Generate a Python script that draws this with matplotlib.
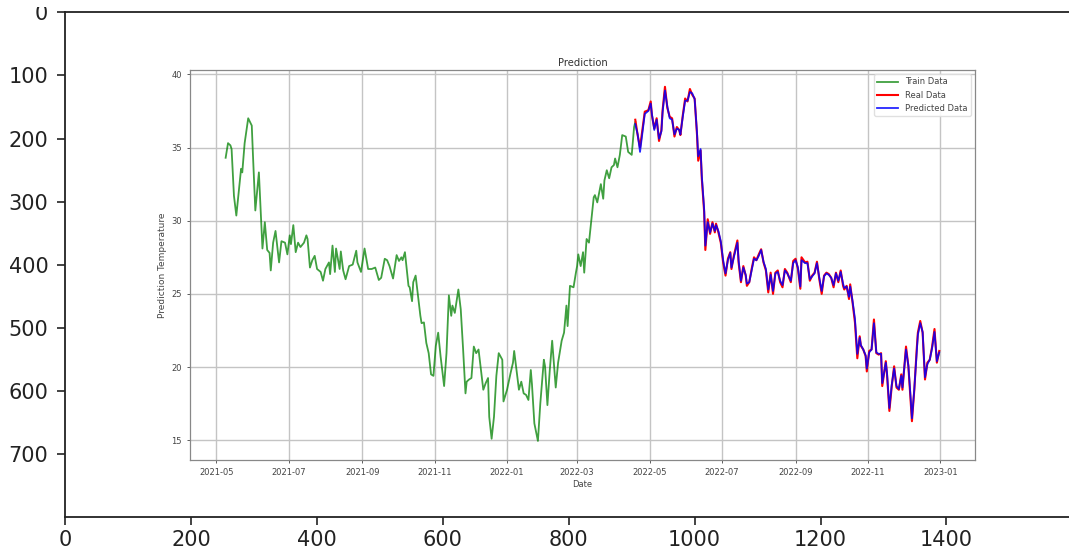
import numpy as np
import pandas as pd
import matplotlib
matplotlib.use("Agg")
import matplotlib.pyplot as plt
import matplotlib.dates as mdates
from matplotlib.transforms import Bbox

# temperature series, days counted from 2021-05-01
start = pd.Timestamp("2021-05-01")

train_day = [
    8, 10, 12, 13, 15, 17, 19, 21, 22, 24,
    27, 30, 31, 33, 36, 38, 39, 41, 43, 45,
    46, 48, 50, 53, 55, 58, 60, 62, 63, 65,
    67, 69, 71, 74, 76, 77, 79, 81, 83, 85,
    88, 90, 92, 95, 96, 98, 100, 101, 104, 105,
    107, 109, 112, 115, 118, 119, 122, 125, 128, 131,
    134, 137, 139, 142, 144, 146, 149, 152, 154, 156,
    157, 159, 162, 163, 165, 166, 168, 170, 172, 173,
    175, 177, 179, 181, 183, 185, 187, 189, 192, 194,
    196, 198, 199, 201, 204, 206, 208, 210, 211, 213,
    215, 217, 219, 221, 223, 225, 227, 229, 230, 232,
    234, 236, 238, 241, 242, 245, 248, 250, 251, 253,
    255, 257, 259, 261, 263, 265, 266, 268, 271, 273,
    276, 277, 279, 281, 283, 286, 288, 291, 293, 295,
    296, 298, 301, 303, 304, 305, 307, 309, 310, 312,
    314, 317, 318, 319, 321, 324, 326, 327, 329, 331,
    333, 335, 336, 338, 340, 342, 345, 347, 350, 352,
    353,
]
train_temp = [
    34.3, 35.3, 35.15, 34.9, 31.7, 30.35, 31.95, 33.55, 33.3, 35.3,
    37.0, 36.5, 34.5, 30.7, 33.3, 29.9, 28.1, 29.9, 28.0, 27.8,
    26.6, 28.5, 29.3, 27.15, 28.6, 28.5, 27.7, 29.0, 28.4, 29.7,
    27.85, 28.5, 28.2, 28.5, 29.0, 28.75, 26.8, 27.3, 27.6, 26.7,
    26.5, 25.9, 26.7, 27.15, 26.35, 28.3, 26.5, 28.1, 26.7, 27.9,
    26.6, 26.0, 26.9, 27.0, 27.95, 27.15, 26.5, 28.1, 26.7, 26.7,
    26.8, 25.95, 26.1, 27.4, 27.3, 26.9, 26.05, 27.65, 27.25, 27.5,
    27.3, 27.85, 25.55, 25.45, 24.5, 25.8, 26.25, 24.9, 23.5, 23.0,
    23.05, 21.65, 20.95, 19.5, 19.4, 21.45, 22.35, 20.75, 18.7, 20.95,
    24.9, 23.5, 24.2, 23.7, 25.3, 23.95, 21.2, 18.2, 19.0, 19.15,
    19.25, 21.4, 20.95, 21.2, 19.8, 18.45, 18.9, 19.25, 16.6, 15.1,
    16.6, 19.4, 20.95, 20.5, 17.65, 18.45, 19.6, 20.3, 21.1, 19.8,
    18.45, 19.0, 18.2, 18.1, 17.75, 19.8, 18.8, 16.15, 14.95, 17.5,
    20.5, 20.05, 17.4, 19.8, 21.8, 18.6, 20.3, 21.8, 22.35, 24.2,
    22.8, 25.55, 25.45, 26.45, 26.9, 27.7, 26.9, 27.85, 26.45, 28.75,
    28.5, 30.8, 31.6, 31.75, 31.25, 32.5, 31.5, 32.75, 33.45, 32.9,
    33.65, 33.8, 34.25, 33.65, 34.5, 35.85, 35.75, 34.7, 34.5, 36.4,
    36.75,
]

test_day = [
    353, 355, 357, 359, 361, 364, 366, 367, 369, 371,
    373, 375, 376, 378, 380, 382, 384, 386, 388, 390,
    391, 393, 395, 397, 399, 401, 403, 405, 406, 408,
    409, 411, 412, 414, 416, 418, 420, 421, 423, 425,
    427, 429, 431, 433, 434, 436, 439, 440, 442, 444,
    446, 447, 449, 451, 453, 455, 457, 459, 461, 463,
    465, 467, 469, 471, 473, 475, 477, 479, 481, 484,
    486, 488, 490, 492, 493, 496, 498, 500, 502, 504,
    506, 508, 510, 512, 514, 516, 518, 520, 522, 524,
    526, 528, 529, 531, 533, 534, 536, 538, 540, 542,
    543, 545, 547, 548, 550, 552, 554, 556, 558, 560,
    561, 564, 565, 567, 569, 571, 573, 575, 577, 578,
    581, 583, 585, 586, 588, 590, 591, 593, 595, 597,
    599, 601, 603, 605, 607, 609,
]
real_temp = [
    36.9, 35.85, 35.0, 36.2, 37.45, 37.55, 38.15, 37.2, 36.3, 37.0,
    35.45, 36.2, 37.55, 39.15, 37.7, 37.1, 37.0, 35.75, 36.4, 36.2,
    35.85, 37.2, 38.35, 38.15, 39.0, 38.6, 38.35, 35.85, 34.1, 34.8,
    32.9, 30.6, 28.0, 30.1, 29.1, 29.9, 29.2, 29.8, 29.2, 28.5,
    27.15, 26.25, 27.4, 27.85, 26.7, 27.6, 28.65, 27.15, 25.8, 26.9,
    26.25, 25.55, 25.8, 26.7, 27.5, 27.3, 27.7, 28.05, 27.15, 26.6,
    25.1, 26.45, 25.0, 26.45, 26.6, 25.8, 25.45, 26.7, 26.45, 25.8,
    27.25, 27.4, 26.7, 25.35, 27.5, 27.15, 27.2, 25.9, 26.25, 26.45,
    27.2, 26.0, 25.0, 26.25, 26.45, 26.35, 26.1, 25.45, 26.45, 25.8,
    26.6, 25.55, 25.3, 25.55, 24.65, 25.65, 24.4, 23.05, 20.6, 22.1,
    21.45, 21.2, 20.75, 19.7, 21.1, 21.2, 23.25, 20.95, 20.85, 20.95,
    18.7, 20.4, 19.5, 17.0, 18.7, 20.05, 18.6, 18.45, 19.5, 18.45,
    21.4, 20.05, 17.55, 16.3, 18.45, 21.2, 22.35, 23.15, 22.35, 19.15,
    20.3, 20.5, 21.4, 22.6, 20.3, 21.1,
]
pred_temp = [
    36.6, 35.9, 34.7, 36.0, 37.3, 37.5, 38.0, 37.3, 36.2, 36.9,
    35.6, 36.1, 37.4, 38.9, 37.8, 37.0, 36.9, 35.9, 36.3, 36.2,
    35.9, 37.1, 38.2, 38.2, 38.8, 38.7, 38.3, 36.0, 34.4, 34.9,
    33.1, 30.8, 28.3, 29.9, 29.2, 29.8, 29.3, 29.7, 29.3, 28.6,
    27.3, 26.4, 27.3, 27.8, 26.8, 27.5, 28.5, 27.3, 25.9, 26.8,
    26.3, 25.7, 25.8, 26.6, 27.4, 27.3, 27.6, 28.0, 27.2, 26.7,
    25.3, 26.3, 25.2, 26.4, 26.5, 25.9, 25.6, 26.6, 26.4, 25.9,
    27.1, 27.3, 26.8, 25.5, 27.3, 27.1, 27.1, 26.0, 26.2, 26.4,
    27.1, 26.1, 25.2, 26.2, 26.4, 26.3, 26.1, 25.6, 26.4, 25.9,
    26.5, 25.7, 25.4, 25.5, 24.8, 25.5, 24.5, 23.3, 20.9, 22.0,
    21.5, 21.2, 20.8, 19.9, 21.0, 21.2, 23.0, 21.0, 20.9, 20.9,
    18.9, 20.3, 19.6, 17.2, 18.8, 19.9, 18.7, 18.5, 19.4, 18.6,
    21.2, 20.1, 17.8, 16.5, 18.5, 21.0, 22.2, 23.0, 22.4, 19.3,
    20.2, 20.5, 21.3, 22.4, 20.4, 21.0,
]

train_dates = start + pd.to_timedelta(train_day, unit="D")
test_dates = start + pd.to_timedelta(test_day, unit="D")

fig = plt.figure(figsize=(10.69, 5.54), dpi=100)

# outer pixel-coordinate frame
outer = fig.add_axes([0.0608, 0.0668, 0.942, 0.9116])
outer.set_xlim(-0.5, 1599.5)
outer.set_ylim(799.5, -0.5)
outer.set_xticks(np.arange(0, 1401, 200))
outer.set_yticks(np.arange(0, 701, 100))
outer.tick_params(labelsize=15, length=6, width=1.2, colors="#222222")
outer.tick_params(axis="y", pad=6)
for s in outer.spines.values():
    s.set_linewidth(1.3)
    s.set_color("#222222")

# top edge cuts through the "0" label
fig.canvas.draw()
top_cut = Bbox.from_extents(0, 0, 1069, 547)
for lbl in outer.get_yticklabels():
    lbl.set_clip_box(top_cut)
    lbl.set_clip_on(True)

# the prediction chart sitting inside the frame
ax = fig.add_axes([0.1777, 0.1697, 0.7343, 0.7040])
ax.plot(train_dates, train_temp, color="green", alpha=0.75, lw=1.3, label="Train Data")
ax.plot(test_dates, real_temp, color="red", lw=1.5, label="Real Data")
ax.plot(test_dates, pred_temp, color="blue", alpha=0.85, lw=1.3, label="Predicted Data")
ax.set_ylim(13.65, 40.3)
ax.xaxis.set_major_locator(mdates.MonthLocator(bymonth=[1, 3, 5, 7, 9, 11]))
ax.xaxis.set_major_formatter(mdates.DateFormatter("%Y-%m"))
ax.set_yticks([15, 20, 25, 30, 35, 40])
ax.grid(True, color="#c4c4c4", lw=1.0)
ax.tick_params(labelsize=6, colors="#444444", length=2.5, width=0.6)
for s in ax.spines.values():
    s.set_color("#888888")
    s.set_linewidth(0.9)
ax.set_title("Prediction", fontsize=7.2, color="#333333", pad=3)
ax.set_xlabel("Date", fontsize=6, color="#444444", labelpad=2)
ax.set_ylabel("Prediction Temperature", fontsize=6.5, color="#444444", labelpad=3)
ax.legend(loc="upper right", fontsize=6, handlelength=2.5, framealpha=0.9,
          edgecolor="#dddddd", labelcolor="#444444")

fig.savefig("out.png", dpi=100)
